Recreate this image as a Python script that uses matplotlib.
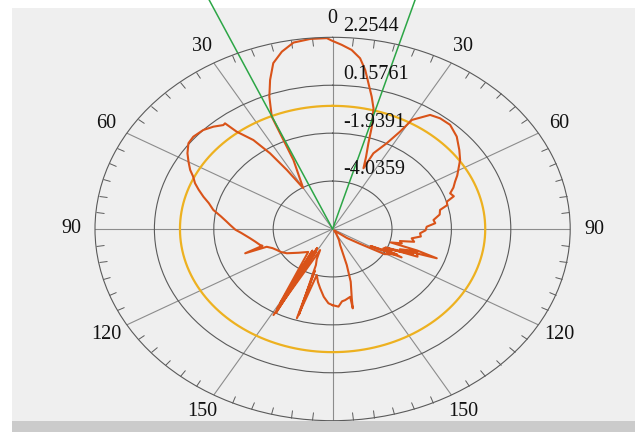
import numpy as np
import matplotlib
matplotlib.use("Agg")
import matplotlib.pyplot as plt
from matplotlib.patches import Rectangle

# ---- data -------------------------------------------------------------
ring_values = [-4.0359, -1.9391, 0.15761, 2.2544]
r_min = -6.1327
r_max = 2.2544

angle_ticks = [0, 30, 60, 90, 120, 150, -150, -120, -90, -60, -30]
angle_labels = ["0", "30", "60", "90", "120", "150", "150", "120", "90", "60", "30"]

pattern_theta = [
    -180, -177.4, -174.0, -170.4, -167.5, -164.5, -162.1, -161.0, -162.4,
    -159.5, -157.0, -154.4, -151.0, -149.0, -151.4, -146.7, -150.6, -143.0,
    -150.2, -139.4,
    -131.0, -123.3, -119.0, -115.0, -111.5, -108.5, -109.0, -106.5,
    -105.3, -101.5, -97.9, -93.0, -90.5, -87.2, -85.1, -82.0, -78.8, -75.5,
    -72.8, -70.0, -67.6, -65.0, -62.8, -60.0, -57.1, -53.6, -50.6, -46.5,
    -43.2, -40.3, -39.4, -38.5, -35.7, -33.7, -32.0, -30.1, -24.6, -23.8,
    -23.6, -21.1, -18.7, -16.1, -13.0, -9.6, -5.4, -1.4, -0.2, 2.3, 4.9,
    7.4, 9.4, 11.2, 13.4, 15.3, 17.2, 18.6, 20.5, 22.3, 23.5, 27.0, 29.2,
    30.4, 34.6, 38.1, 42.3, 47.3, 52.3, 56.1, 59.8, 62.0, 64.4, 67.0, 69.4,
    71.5, 73.5, 75.5, 77.6, 80.5, 83.7, 86.0, 88.3, 91.0, 93.5, 96.0, 98.3,
    101.0, 102.5, 104.4, 106.0, 107.5, 109.2, 110.5, 108.0, 112.0, 113.5,
    111.0, 115.2, 117.0, 119.0, 116.0, 121.0, 124.0, 128.0, 138.0, 148.0,
    155.0, 159.3, 162.4, 164.5, 167.4, 168.4, 168.2, 171.9, 174.0, 176.5,
    180.0,
]
pattern_r = [
    -2.80, -2.88, -3.15, -3.50, -3.75, -4.04, -2.03, -4.20, -2.20,
    -4.45, -4.70, -5.11, -1.83, -5.00, -1.95, -5.14, -2.15, -4.95,
    -2.40, -4.81,
    -4.55, -4.20, -4.05, -3.96, -3.85, -3.68, -2.87, -3.55,
    -3.48, -3.35, -3.19, -2.90, -2.70, -2.51, -2.38, -2.15, -1.84, -1.62,
    -1.36, -1.10, -0.88, -0.70, -0.48, -0.26, -0.03, 0.19, 0.23, 0.16,
    0.01, -0.17, -0.15, -0.69, -1.34, -2.15, -3.09, -4.06, -2.81, -1.40,
    -0.77, 0.07, 0.75, 1.42, 1.83, 2.14, 2.22, 2.22, 2.11, 1.93, 1.73,
    1.40, 0.92, 0.37, -0.18, -0.66, -1.45, -2.17, -2.76, -3.26, -2.52, -1.92, -1.25,
    -0.60, -0.07, 0.02, 0.03, -0.17, -0.48, -0.71, -1.00, -1.15, -1.34, -1.50, -1.70,
    -1.62, -1.93, -1.95, -2.25, -2.30, -2.55, -2.50, -2.81, -2.85, -3.04, -3.00, -3.31,
    -3.20, -3.70, -3.61, -4.00, -3.00, -2.24, -3.60, -3.00, -2.90, -4.10,
    -3.10, -4.15, -3.40, -4.60, -3.60, -4.00, -5.00, -5.50, -6.05, -5.90,
    -5.60, -5.38, -4.48, -3.74, -3.03, -2.59, -3.10, -2.99, -2.95, -2.73,
    -2.80,
]

reference_level = -0.745          # yellow circle
beam_edges = [-23.5, 16.2]        # green lines (deg)

# ---- figure ------------------------------------------------------------
W, H = 635, 432
fig = plt.figure(figsize=(W / 100, H / 100), dpi=100, facecolor="white")
fig.patches.append(Rectangle((12 / W, 11 / H), 1 - 12 / W, 1 - 19 / H,
                             transform=fig.transFigure, facecolor="#efefef",
                             edgecolor="none", zorder=-10))

ax = fig.add_axes([95 / W, 11.3 / H, 475.2 / W, 383.4 / H], projection="polar")
ax.set_aspect("auto")
ax.set_facecolor("none")
ax.set_theta_zero_location("N")
ax.set_theta_direction(-1)
ax.set_ylim(r_min, r_max)
ax.set_axisbelow(True)

ax.set_yticks(ring_values[:-1])
ax.set_yticklabels([])
ax.yaxis.grid(True, color="#5a5a5a", lw=0.8)
ax.set_xticks(np.deg2rad(np.arange(0, 360, 30)))
ax.set_xticklabels([])
ax.xaxis.grid(True, color="#8c8c8c", lw=0.8)
ax.set_xticks(np.deg2rad(np.arange(0, 360, 5)), minor=True)
ax.tick_params(axis="x", which="minor", top=True, bottom=False,
               direction="in", length=5.5, width=0.7, color="#5a5a5a")
ax.tick_params(axis="x", which="major", length=0)
ax.spines["polar"].set_edgecolor("#5a5a5a")
ax.spines["polar"].set_linewidth(0.8)

font = dict(family=["Liberation Serif", "DejaVu Serif"], fontsize=14.5, color="#111111")

label_r = r_min + 4.4 * (ring_values[1] - ring_values[0])
for a, lab in zip(angle_ticks, angle_labels):
    ax.text(np.deg2rad(a), label_r, lab, ha="center", va="center",
            clip_on=False, **font)

for v in ring_values:
    ax.annotate(f"{v:g}" if v != 0.15761 else "0.15761", xy=(0, v),
                xytext=(7.6, 8.0), textcoords="offset points",
                ha="left", va="center", annotation_clip=False, **font)

# yellow reference circle
circ_t = np.deg2rad(np.linspace(0, 360, 361))
ax.plot(circ_t, np.full_like(circ_t, reference_level), color="#EDB120", lw=1.6)

# radiation pattern
ax.plot(np.deg2rad(pattern_theta), pattern_r, color="#D95319", lw=1.5)

# green beam-edge lines
for b in beam_edges:
    ax.plot([np.deg2rad(b)] * 2, [r_min, 6.0], color="#2ca646", lw=1.1,
            clip_on=False)

# bottom grey bar
fig.patches.append(Rectangle((12 / W, 0), 1 - 12 / W, 11 / H,
                             transform=fig.transFigure, facecolor="#cbcbcb",
                             edgecolor="none", zorder=10))

fig.savefig("out.png", dpi=100, facecolor="white")
